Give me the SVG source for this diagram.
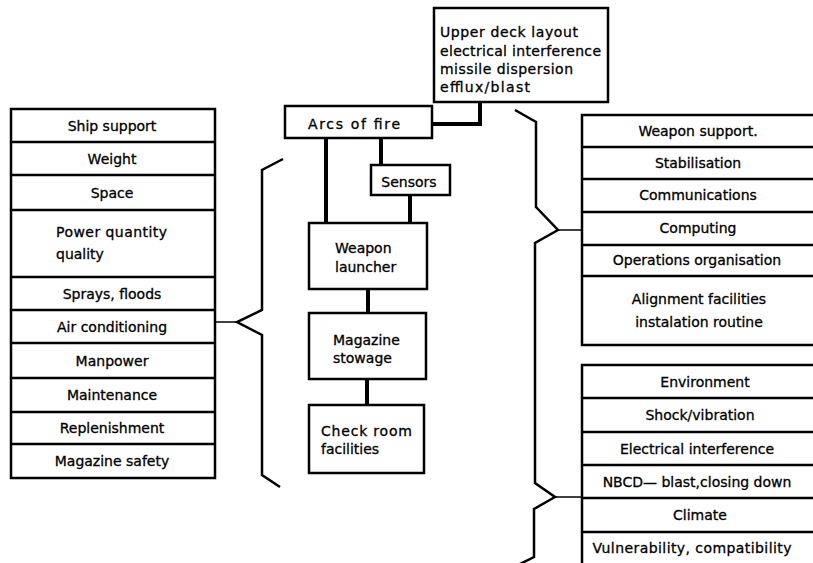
<svg xmlns="http://www.w3.org/2000/svg" width="813" height="563" viewBox="0 0 813 563">
  <style>
    .box { fill: #fff; stroke: #000; stroke-width: 2.5; }
    .div { stroke: #000; stroke-width: 2.5; }
    .t { font-family: "DejaVu Sans", "Liberation Sans", sans-serif; font-size: 14px; fill: #000; stroke: #000; stroke-width: 0.3; }
    .c { text-anchor: middle; }
    .link { fill: none; stroke: #000; stroke-width: 4; stroke-linecap: square; }
    .brace { fill: none; stroke: #000; stroke-width: 2.5; stroke-linejoin: miter; }
    .stub { fill: none; stroke: #000; stroke-width: 1.5; }
  </style>
  <rect width="813" height="563" fill="#fff"/>

  <!-- connectors and braces -->
  <g id="connectors">
    <polyline class="link" points="480,102 480,124 433,124"/>
    <line class="link" x1="326" y1="138" x2="326" y2="223"/>
    <line class="link" x1="381" y1="138" x2="381" y2="165"/>
    <line class="link" x1="410" y1="195" x2="410" y2="223"/>
    <line class="link" x1="368" y1="289" x2="368" y2="313"/>
    <line class="link" x1="367" y1="379" x2="367" y2="405"/>
    <path class="brace" d="M283,159 L262,170 L262,310 L237,322 L262,335 L262,475 L280,487"/>
    <line class="stub" x1="237" y1="322" x2="215" y2="322"/>
    <path class="brace" d="M515,110 L536,122 L536,207 L558,230 L535,243 L535,483 L555,497 L534,509 L534,557 L518,565"/>
    <line class="stub" x1="558" y1="230" x2="582" y2="230"/>
    <line class="stub" x1="555" y1="497" x2="582" y2="497"/>
  </g>

  <!-- centre chain -->
  <g id="upper-deck">
    <rect class="box" x="434" y="8" width="174" height="94"/>
    <text class="t" x="440" y="37" textLength="138">Upper deck layout</text>
    <text class="t" x="440" y="56" textLength="161">electrical interference</text>
    <text class="t" x="440" y="74" textLength="133">missile dispersion</text>
    <text class="t" x="440" y="92" textLength="90">efflux/blast</text>
  </g>
  <g id="arcs-of-fire">
    <rect class="box" x="285" y="106" width="147" height="32"/>
    <text class="t" x="308" y="129" textLength="92">Arcs of fire</text>
  </g>
  <g id="sensors">
    <rect class="box" x="371" y="165" width="79" height="30"/>
    <text class="t c" x="409" y="187">Sensors</text>
  </g>
  <g id="weapon-launcher">
    <rect class="box" x="309" y="223" width="118" height="66"/>
    <text class="t" x="335" y="253">Weapon</text>
    <text class="t" x="335" y="272">launcher</text>
  </g>
  <g id="magazine-stowage">
    <rect class="box" x="309" y="313" width="117" height="66"/>
    <text class="t" x="333" y="345">Magazine</text>
    <text class="t" x="333" y="363">stowage</text>
  </g>
  <g id="check-room">
    <rect class="box" x="309" y="405" width="115" height="68"/>
    <text class="t" x="321" y="436" textLength="91">Check room</text>
    <text class="t" x="321" y="454">facilities</text>
  </g>

  <!-- ship support list -->
  <g id="ship-support">
    <rect class="box" x="11" y="109" width="204" height="369"/>
    <line class="div" x1="11" y1="142" x2="215" y2="142"/>
    <line class="div" x1="11" y1="175" x2="215" y2="175"/>
    <line class="div" x1="11" y1="210" x2="215" y2="210"/>
    <line class="div" x1="11" y1="277" x2="215" y2="277"/>
    <line class="div" x1="11" y1="310" x2="215" y2="310"/>
    <line class="div" x1="11" y1="343" x2="215" y2="343"/>
    <line class="div" x1="11" y1="378" x2="215" y2="378"/>
    <line class="div" x1="11" y1="412" x2="215" y2="412"/>
    <line class="div" x1="11" y1="444" x2="215" y2="444"/>
    <text class="t c" x="112" y="131">Ship support</text>
    <text class="t c" x="112" y="164">Weight</text>
    <text class="t c" x="112" y="198">Space</text>
    <text class="t" x="56" y="237" textLength="111">Power quantity</text>
    <text class="t" x="56" y="259">quality</text>
    <text class="t c" x="112" y="299">Sprays, floods</text>
    <text class="t c" x="112" y="332">Air conditioning</text>
    <text class="t c" x="112" y="366">Manpower</text>
    <text class="t c" x="112" y="400">Maintenance</text>
    <text class="t c" x="112" y="433">Replenishment</text>
    <text class="t c" x="112" y="466">Magazine safety</text>
  </g>

  <!-- weapon support list -->
  <g id="weapon-support">
    <rect class="box" x="582" y="115" width="240" height="230"/>
    <line class="div" x1="582" y1="147" x2="813" y2="147"/>
    <line class="div" x1="582" y1="179" x2="813" y2="179"/>
    <line class="div" x1="582" y1="212" x2="813" y2="212"/>
    <line class="div" x1="582" y1="245" x2="813" y2="245"/>
    <line class="div" x1="582" y1="276" x2="813" y2="276"/>
    <text class="t c" x="698" y="136">Weapon support.</text>
    <text class="t c" x="698" y="168">Stabilisation</text>
    <text class="t c" x="698" y="200">Communications</text>
    <text class="t c" x="698" y="233">Computing</text>
    <text class="t c" x="697" y="265">Operations organisation</text>
    <text class="t c" x="699" y="304">Alignment facilities</text>
    <text class="t c" x="699" y="327">instalation routine</text>
  </g>

  <!-- environment list -->
  <g id="environment">
    <rect class="box" x="582" y="365" width="240" height="210"/>
    <line class="div" x1="582" y1="398" x2="813" y2="398"/>
    <line class="div" x1="582" y1="432" x2="813" y2="432"/>
    <line class="div" x1="582" y1="465" x2="813" y2="465"/>
    <line class="div" x1="582" y1="498" x2="813" y2="498"/>
    <line class="div" x1="582" y1="532" x2="813" y2="532"/>
    <text class="t c" x="705" y="387">Environment</text>
    <text class="t c" x="700" y="420">Shock/vibration</text>
    <text class="t c" x="697" y="454">Electrical interference</text>
    <text class="t c" x="697" y="487">NBCD— blast,closing down</text>
    <text class="t c" x="700" y="520">Climate</text>
    <text class="t c" x="692" y="553" textLength="199">Vulnerability, compatibility</text>
  </g>
</svg>
